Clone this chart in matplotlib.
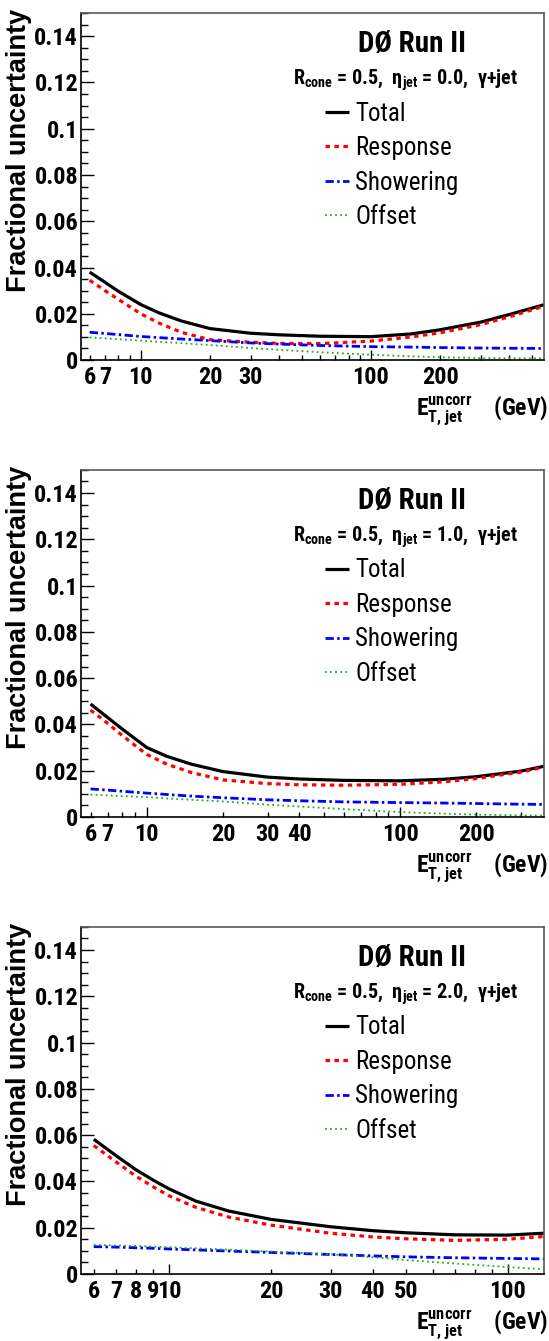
import matplotlib
matplotlib.use("Agg")
import matplotlib.pyplot as plt
from matplotlib import font_manager
from matplotlib.ticker import LogLocator, MultipleLocator, FuncFormatter

# look for a condensed sans (the original uses narrow Helvetica)
all_names = {f.name for f in font_manager.fontManager.ttflist}
base = "Liberation Sans"
for cand in ["Liberation Sans Narrow", "Arial Narrow", "Roboto Condensed", "Archivo Narrow"]:
    if cand in all_names:
        base = cand
        break
have_narrow = base != "Liberation Sans"
plt.rcParams["font.family"] = [base, "DejaVu Sans"]
tick_size = 17.5 if have_narrow else 15.5

# ---- data ----
eta_text = ["0.0", "1.0", "2.0"]
x_ranges = [(5.5, 565), (5.5, 370), (5.5, 128)]
x_labels = [[6, 7, 10, 20, 30, 100, 200],
            [6, 7, 10, 20, 30, 40, 100, 200],
            [6, 7, 8, 9, 10, 20, 30, 40, 50, 100]]

# eta = 0.0
et0 = [6, 7, 8, 10, 12, 15, 20, 30, 40, 60, 100, 150, 200, 300, 400, 565]
total0 = [0.0380, 0.0336, 0.0297, 0.0240, 0.0204, 0.0169, 0.0136, 0.0116, 0.0109, 0.0103,
          0.0101, 0.0113, 0.0131, 0.0164, 0.0197, 0.0239]
resp0 = [0.0345, 0.0300, 0.0262, 0.0200, 0.0160, 0.0120, 0.0088, 0.0077, 0.0072, 0.0071,
         0.0082, 0.0100, 0.0118, 0.0153, 0.0187, 0.0233]
show0 = [0.0120, 0.0115, 0.0110, 0.0102, 0.0097, 0.0091, 0.0084, 0.0074, 0.0069, 0.0063,
         0.0058, 0.0056, 0.0054, 0.0052, 0.0051, 0.0050]
off0 = [0.0098, 0.0094, 0.0090, 0.0084, 0.0079, 0.0073, 0.0065, 0.0052, 0.0044, 0.0034,
        0.0023, 0.0016, 0.0012, 0.0009, 0.0008, 0.0007]

# eta = 1.0
et1 = [6, 7, 8, 10, 12, 15, 20, 30, 40, 60, 100, 150, 200, 300, 370]
total1 = [0.0488, 0.0430, 0.0380, 0.0300, 0.0262, 0.0228, 0.0196, 0.0172, 0.0164, 0.0158,
          0.0156, 0.0163, 0.0174, 0.0198, 0.0219]
resp1 = [0.0462, 0.0405, 0.0352, 0.0270, 0.0228, 0.0192, 0.0160, 0.0144, 0.0139, 0.0137,
         0.0141, 0.0152, 0.0166, 0.0194, 0.0215]
show1 = [0.0121, 0.0116, 0.0111, 0.0103, 0.0097, 0.0090, 0.0083, 0.0074, 0.0070, 0.0065,
         0.0062, 0.0060, 0.0058, 0.0055, 0.0054]
off1 = [0.0096, 0.0093, 0.0090, 0.0086, 0.0080, 0.0074, 0.0067, 0.0053, 0.0045, 0.0034,
        0.0021, 0.0014, 0.0010, 0.0007, 0.0006]

# eta = 2.0
et2 = [6, 7, 8, 9, 10, 12, 15, 20, 30, 40, 50, 70, 100, 128]
total2 = [0.0582, 0.0510, 0.0450, 0.0405, 0.0368, 0.0315, 0.0272, 0.0236, 0.0204, 0.0187,
          0.0178, 0.0169, 0.0168, 0.0176]
resp2 = [0.0555, 0.0483, 0.0422, 0.0376, 0.0338, 0.0288, 0.0246, 0.0211, 0.0176, 0.0160,
         0.0152, 0.0145, 0.0150, 0.0162]
show2 = [0.0118, 0.0116, 0.0113, 0.0111, 0.0108, 0.0104, 0.0099, 0.0093, 0.0084, 0.0078,
         0.0074, 0.0070, 0.0067, 0.0065]
off2 = [0.0126, 0.0123, 0.0121, 0.0118, 0.0116, 0.0111, 0.0105, 0.0097, 0.0085, 0.0072,
        0.0060, 0.0045, 0.0030, 0.0020]

et = [et0, et1, et2]
total = [total0, total1, total2]
resp = [resp0, resp1, resp2]
show = [show0, show1, show2]
off = [off0, off1, off2]

fig = plt.figure(figsize=(5.49, 13.41), dpi=100)
bottoms = [0.7315, 0.3908, 0.0500]

for i in range(3):
    ax = fig.add_axes([0.1475, bottoms[i], 0.8434, 0.2588])
    ax.plot(et[i], total[i], color="black", lw=2.3, label="Total", solid_capstyle="butt")
    ax.plot(et[i], resp[i], color="red", lw=2.3, dashes=(1.4, 1.4), label="Response")
    ax.plot(et[i], show[i], color="blue", lw=2.0, dashes=(3.0, 1.2, 0.9, 1.2), label="Showering")
    ax.plot(et[i], off[i], color="#22aa22", lw=1.3, dashes=(1.0, 1.8), label="Offset")

    ax.set_xscale("log")
    ax.set_xlim(*x_ranges[i])
    ax.set_ylim(0, 0.15)

    labs = x_labels[i]
    fmt = FuncFormatter(lambda v, p, labs=labs: "%d" % round(v) if any(abs(v - l) < 1e-6 * l for l in labs) else "")
    ax.xaxis.set_major_locator(LogLocator(base=10, numticks=10))
    ax.xaxis.set_minor_locator(LogLocator(base=10, subs=[2, 3, 4, 5, 6, 7, 8, 9], numticks=20))
    ax.xaxis.set_major_formatter(fmt)
    ax.xaxis.set_minor_formatter(fmt)
    ax.yaxis.set_major_locator(MultipleLocator(0.02))
    ax.yaxis.set_minor_locator(MultipleLocator(0.005))
    ax.yaxis.set_major_formatter(FuncFormatter(lambda v, p: "%g" % round(v, 3)))

    ax.tick_params(axis="both", which="both", direction="in", top=False, right=False,
                   labelsize=tick_size, width=1.0, color="black")
    ax.tick_params(axis="x", which="major", length=7.2, pad=4.5)
    ax.tick_params(axis="x", which="minor", length=3.4, pad=4.5)
    ax.tick_params(axis="y", which="major", length=9.4, pad=2)
    ax.tick_params(axis="y", which="minor", length=5.0)
    for lab in ax.get_xticklabels(which="both") + ax.get_yticklabels():
        lab.set_fontweight("bold")

    for s in ["left", "bottom"]:
        ax.spines[s].set_linewidth(1.2)
        ax.spines[s].set_color("black")
    for s in ["top", "right"]:
        ax.spines[s].set_linewidth(1.2)
        ax.spines[s].set_color("0.35")

    ax.set_ylabel("Fractional uncertainty", loc="top", fontsize=19.5, fontweight="bold",
                  family=["Liberation Sans", "DejaVu Sans"])
    ax.yaxis.set_label_coords(-0.106, 1.012)

    ax.text(1.0086, -0.158, r"E$^{\mathregular{uncorr}}_{\mathregular{T,jet}}$    (GeV)",
            transform=ax.transAxes, ha="right", va="baseline", fontsize=17, fontweight="bold")

    ax.text(0.715, 0.8876, "DØ Run II", transform=ax.transAxes, ha="center", va="baseline",
            fontsize=21, fontweight="bold")
    ax.text(0.70, 0.7925,
            r"R$_{\mathregular{cone}}$ = 0.5,  η$_{\mathregular{jet}}$ = " + eta_text[i] + ",  γ+jet",
            transform=ax.transAxes, ha="center", va="baseline", fontsize=14.5, fontweight="bold")

    ax.legend(loc="upper left", bbox_to_anchor=(0.527, 0.745), frameon=False, fontsize=18,
              handlelength=0.97, handletextpad=0.24, labelspacing=0.42, borderpad=0,
              borderaxespad=0)

fig.savefig("out.png", dpi=100)
